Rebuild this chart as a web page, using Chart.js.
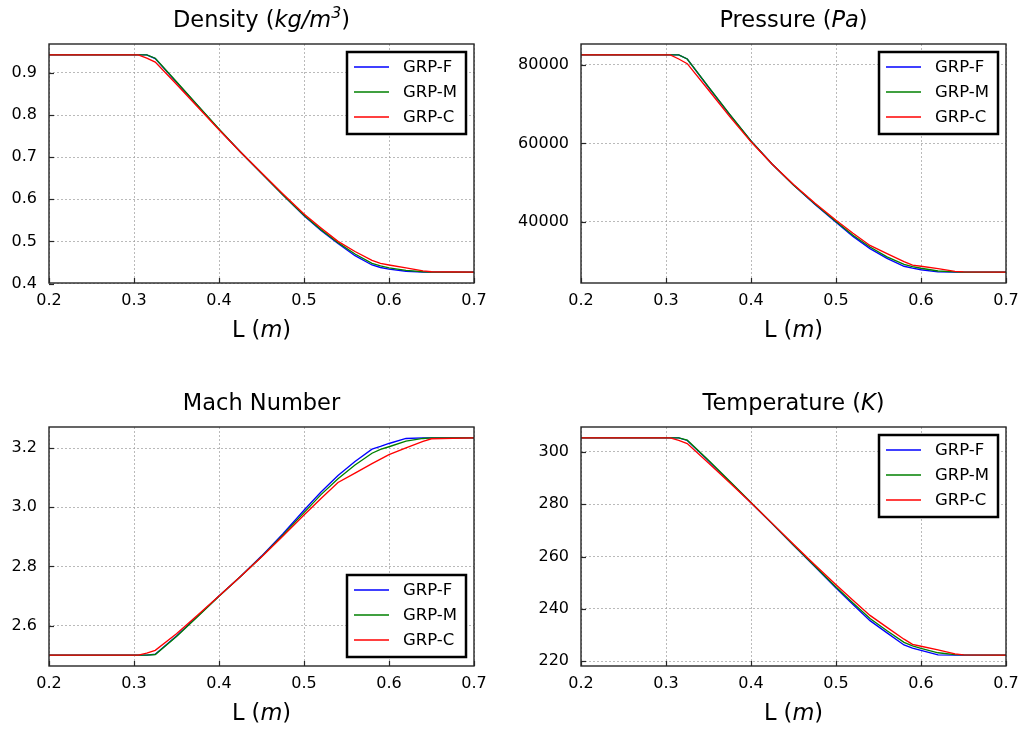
<!DOCTYPE html>
<html>
<head>
<meta charset="utf-8">
<title>GRP flow profiles</title>
<script src="https://cdn.jsdelivr.net/npm/chart.js@4"></script>
<style>
  body { margin: 0; background: #fff; }
  #wrap { position: relative; width: 1021px; height: 731px; overflow: hidden; }
  #wrap canvas { position: absolute; }
</style>
</head>
<body>
<div id="wrap">
  <canvas id="c-density" width="510" height="365" style="left:0;top:0"></canvas>
  <canvas id="c-pressure" width="511" height="365" style="left:510px;top:0"></canvas>
  <canvas id="c-mach" width="510" height="366" style="left:0;top:365px"></canvas>
  <canvas id="c-temp" width="511" height="366" style="left:510px;top:365px"></canvas>
</div>
<script>
// stations along the nozzle, L (m)
const L = [0.2, 0.305, 0.315, 0.325, 0.35, 0.375, 0.4, 0.425, 0.45, 0.475, 0.5, 0.52, 0.54, 0.56, 0.58, 0.59, 0.6, 0.62, 0.64, 0.65, 0.7];

const seriesNames = ['GRP-F', 'GRP-M', 'GRP-C'];
const seriesColors = ['#0000ff', '#008000', '#ff0000'];

const densityF = [0.943, 0.943, 0.943, 0.934, 0.878, 0.822, 0.766, 0.713, 0.662, 0.611, 0.561, 0.526, 0.495, 0.466, 0.444, 0.438, 0.434, 0.429, 0.427, 0.427, 0.427];
const densityM = [0.943, 0.943, 0.943, 0.935, 0.879, 0.823, 0.767, 0.713, 0.662, 0.611, 0.562, 0.528, 0.497, 0.470, 0.448, 0.442, 0.437, 0.431, 0.428, 0.427, 0.427];
const densityC = [0.943, 0.943, 0.935, 0.926, 0.873, 0.819, 0.765, 0.713, 0.663, 0.613, 0.565, 0.532, 0.500, 0.476, 0.455, 0.448, 0.444, 0.437, 0.430, 0.428, 0.427];

const pressureF = [82550, 82550, 82550, 81500, 74300, 67300, 60600, 54700, 49400, 44500, 39900, 36300, 33200, 30700, 28700, 28200, 27800, 27250, 27200, 27200, 27200];
const pressureM = [82550, 82550, 82550, 81500, 74400, 67400, 60600, 54700, 49400, 44600, 40100, 36600, 33600, 31100, 29200, 28600, 28200, 27500, 27250, 27200, 27200];
const pressureC = [82550, 82550, 81500, 80300, 73600, 66800, 60400, 54700, 49500, 44800, 40400, 37100, 34000, 31900, 29900, 29000, 28700, 28100, 27400, 27250, 27200];

const machF = [2.5, 2.5, 2.5, 2.503, 2.565, 2.632, 2.700, 2.765, 2.835, 2.910, 2.990, 3.052, 3.108, 3.155, 3.197, 3.206, 3.216, 3.233, 3.235, 3.235, 3.235];
const machM = [2.5, 2.5, 2.5, 2.502, 2.563, 2.631, 2.699, 2.765, 2.833, 2.906, 2.982, 3.043, 3.097, 3.143, 3.183, 3.196, 3.205, 3.224, 3.233, 3.235, 3.235];
const machC = [2.5, 2.5, 2.507, 2.516, 2.572, 2.636, 2.700, 2.765, 2.832, 2.902, 2.974, 3.030, 3.084, 3.116, 3.148, 3.163, 3.178, 3.201, 3.223, 3.232, 3.235];

const tempF = [305.4, 305.4, 305.4, 304.4, 296.6, 288.6, 280.6, 272.5, 264.3, 256.2, 248.0, 241.7, 235.5, 230.8, 226.2, 225.0, 224.1, 222.4, 222.3, 222.3, 222.3];
const tempM = [305.4, 305.4, 305.4, 304.5, 296.8, 288.8, 280.7, 272.6, 264.4, 256.4, 248.4, 242.2, 236.3, 231.6, 227.2, 225.8, 224.9, 223.2, 222.5, 222.4, 222.3];
const tempC = [305.4, 305.4, 304.4, 303.2, 295.8, 288.2, 280.6, 272.7, 264.7, 256.9, 249.2, 243.3, 237.5, 232.9, 228.4, 226.4, 225.7, 224.3, 222.8, 222.4, 222.3];

// tick labels
const xTicks = [0.2, 0.3, 0.4, 0.5, 0.6, 0.7];
const densityTicks = [0.4, 0.5, 0.6, 0.7, 0.8, 0.9];
const pressureTicks = [40000, 60000, 80000];
const machTicks = [2.6, 2.8, 3.0, 3.2];
const tempTicks = [220, 240, 260, 280, 300];

const FONT = '"DejaVu Sans", "Liberation Sans", sans-serif';

function drawRich(ctx, segs, cx, baseline, size) {
    let total = 0;
    const fontOf = s => (s.it ? 'italic ' : '') + (s.sup ? size * 0.7 : size) + 'px ' + FONT;
    segs.forEach(s => { ctx.font = fontOf(s); total += ctx.measureText(s.t).width; });
    let x = cx - total / 2;
    ctx.textAlign = 'left';
    ctx.textBaseline = 'alphabetic';
    segs.forEach(s => {
        ctx.font = fontOf(s);
        ctx.fillText(s.t, x, baseline - (s.sup ? size * 0.42 : 0));
        x += ctx.measureText(s.t).width;
    });
}

// frame, inward ticks, title and x label
const framePlugin = {
    id: 'frame',
    afterDatasetsDraw(chart, args, opts) {
        const ctx = chart.ctx;
        const a = chart.chartArea;
        ctx.save();
        ctx.strokeStyle = '#262626';
        ctx.lineWidth = 1.2;
        chart.scales.x.ticks.forEach(t => {
            const px = Math.round(chart.scales.x.getPixelForValue(t.value)) + 0.5;
            ctx.beginPath();
            ctx.moveTo(px, a.bottom);
            ctx.lineTo(px, a.bottom - 5);
            ctx.stroke();
        });
        chart.scales.y.ticks.forEach(t => {
            const py = Math.round(chart.scales.y.getPixelForValue(t.value)) + 0.5;
            ctx.beginPath();
            ctx.moveTo(a.left, py);
            ctx.lineTo(a.left + 5, py);
            ctx.stroke();
        });
        ctx.lineWidth = 1.4;
        ctx.strokeRect(a.left, a.top, a.right - a.left, a.bottom - a.top);
        ctx.fillStyle = '#000';
        const cx = (a.left + a.right) / 2;
        drawRich(ctx, opts.title, cx, a.top - 17, 22.5);
        drawRich(ctx, [{ t: 'L (' }, { t: 'm', it: true }, { t: ')' }], cx, a.bottom + 54, 22.5);
        ctx.restore();
    }
};

// boxed legend inside the axes
const boxLegend = {
    id: 'boxLegend',
    afterDraw(chart, args, opts) {
        const ctx = chart.ctx;
        const a = chart.chartArea;
        const w = 119, h = 82;
        const x = a.right - 8 - w;
        const y = opts.where === 'lower' ? a.bottom - 9 - h : a.top + 8;
        ctx.save();
        ctx.fillStyle = '#fff';
        ctx.fillRect(x, y, w, h);
        ctx.strokeStyle = '#000';
        ctx.lineWidth = 2.5;
        ctx.strokeRect(x, y, w, h);
        ctx.font = '16.5px ' + FONT;
        ctx.textAlign = 'left';
        ctx.textBaseline = 'middle';
        chart.data.datasets.forEach((ds, i) => {
            const ry = y + 15 + i * 25;
            ctx.strokeStyle = ds.borderColor;
            ctx.lineWidth = 1.3;
            ctx.beginPath();
            ctx.moveTo(x + 7, ry);
            ctx.lineTo(x + 42, ry);
            ctx.stroke();
            ctx.fillStyle = '#000';
            ctx.fillText(ds.label, x + 56, ry + 1);
        });
        ctx.restore();
    }
};

// pin axis sizes so the plot boxes land where the reference has them
function pinSize(prop, size) {
    return s => {
        s[prop] = size;
        s.paddingLeft = 0;
        s.paddingRight = 0;
        s.paddingTop = 0;
        s.paddingBottom = 0;
    };
}

function makeChart(id, title, series, yTicks, yFmt, legendWhere, pad, yWidth) {
    const all = series.flat();
    const lo = Math.min(...all), hi = Math.max(...all);
    const margin = (hi - lo) * 0.05;

    const datasets = series.map((vals, i) => ({
        label: seriesNames[i],
        data: L.map((x, k) => ({ x: x, y: vals[k] })),
        borderColor: seriesColors[i],
        borderWidth: 1.35,
        pointRadius: 0,
        tension: 0,
        fill: false,
        order: 3 - i
    }));

    const gridOpts = { color: 'rgba(160,160,160,0.9)', lineWidth: 0.8, drawTicks: false };
    const borderOpts = { display: false, dash: [2, 2] };

    return new Chart(document.getElementById(id), {
        type: 'line',
        data: { datasets: datasets },
        options: {
            responsive: false,
            animation: false,
            layout: { padding: pad },
            plugins: {
                legend: { display: false },
                tooltip: { enabled: false },
                frame: { title: title },
                boxLegend: { where: legendWhere }
            },
            scales: {
                x: {
                    type: 'linear',
                    min: 0.2,
                    max: 0.7,
                    afterBuildTicks: s => { s.ticks = xTicks.map(v => ({ value: v })); },
                    afterFit: pinSize('height', 30),
                    ticks: {
                        callback: v => v.toFixed(1),
                        color: '#000',
                        font: { family: FONT, size: 16 },
                        padding: 8,
                        maxRotation: 0
                    },
                    grid: gridOpts,
                    border: borderOpts
                },
                y: {
                    type: 'linear',
                    min: lo - margin,
                    max: hi + margin,
                    afterBuildTicks: s => { s.ticks = yTicks.map(v => ({ value: v })); },
                    afterFit: pinSize('width', yWidth),
                    ticks: {
                        callback: v => v.toFixed(yFmt),
                        color: '#000',
                        font: { family: FONT, size: 16 },
                        padding: 12
                    },
                    grid: gridOpts,
                    border: borderOpts
                }
            }
        },
        plugins: [framePlugin, boxLegend]
    });
}

makeChart('c-density',
    [{ t: 'Density (' }, { t: 'kg/m', it: true }, { t: '3', it: true, sup: true }, { t: ')' }],
    [densityF, densityM, densityC], densityTicks, 1, 'upper',
    { left: 0, right: 36, top: 44, bottom: 52 }, 49);

makeChart('c-pressure',
    [{ t: 'Pressure (' }, { t: 'Pa', it: true }, { t: ')' }],
    [pressureF, pressureM, pressureC], pressureTicks, 0, 'upper',
    { left: 0, right: 15, top: 44, bottom: 52 }, 71);

makeChart('c-mach',
    [{ t: 'Mach Number' }],
    [machF, machM, machC], machTicks, 1, 'lower',
    { left: 0, right: 36, top: 62, bottom: 35 }, 49);

makeChart('c-temp',
    [{ t: 'Temperature (' }, { t: 'K', it: true }, { t: ')' }],
    [tempF, tempM, tempC], tempTicks, 0, 'upper',
    { left: 0, right: 15, top: 62, bottom: 35 }, 71);
</script>
</body>
</html>
